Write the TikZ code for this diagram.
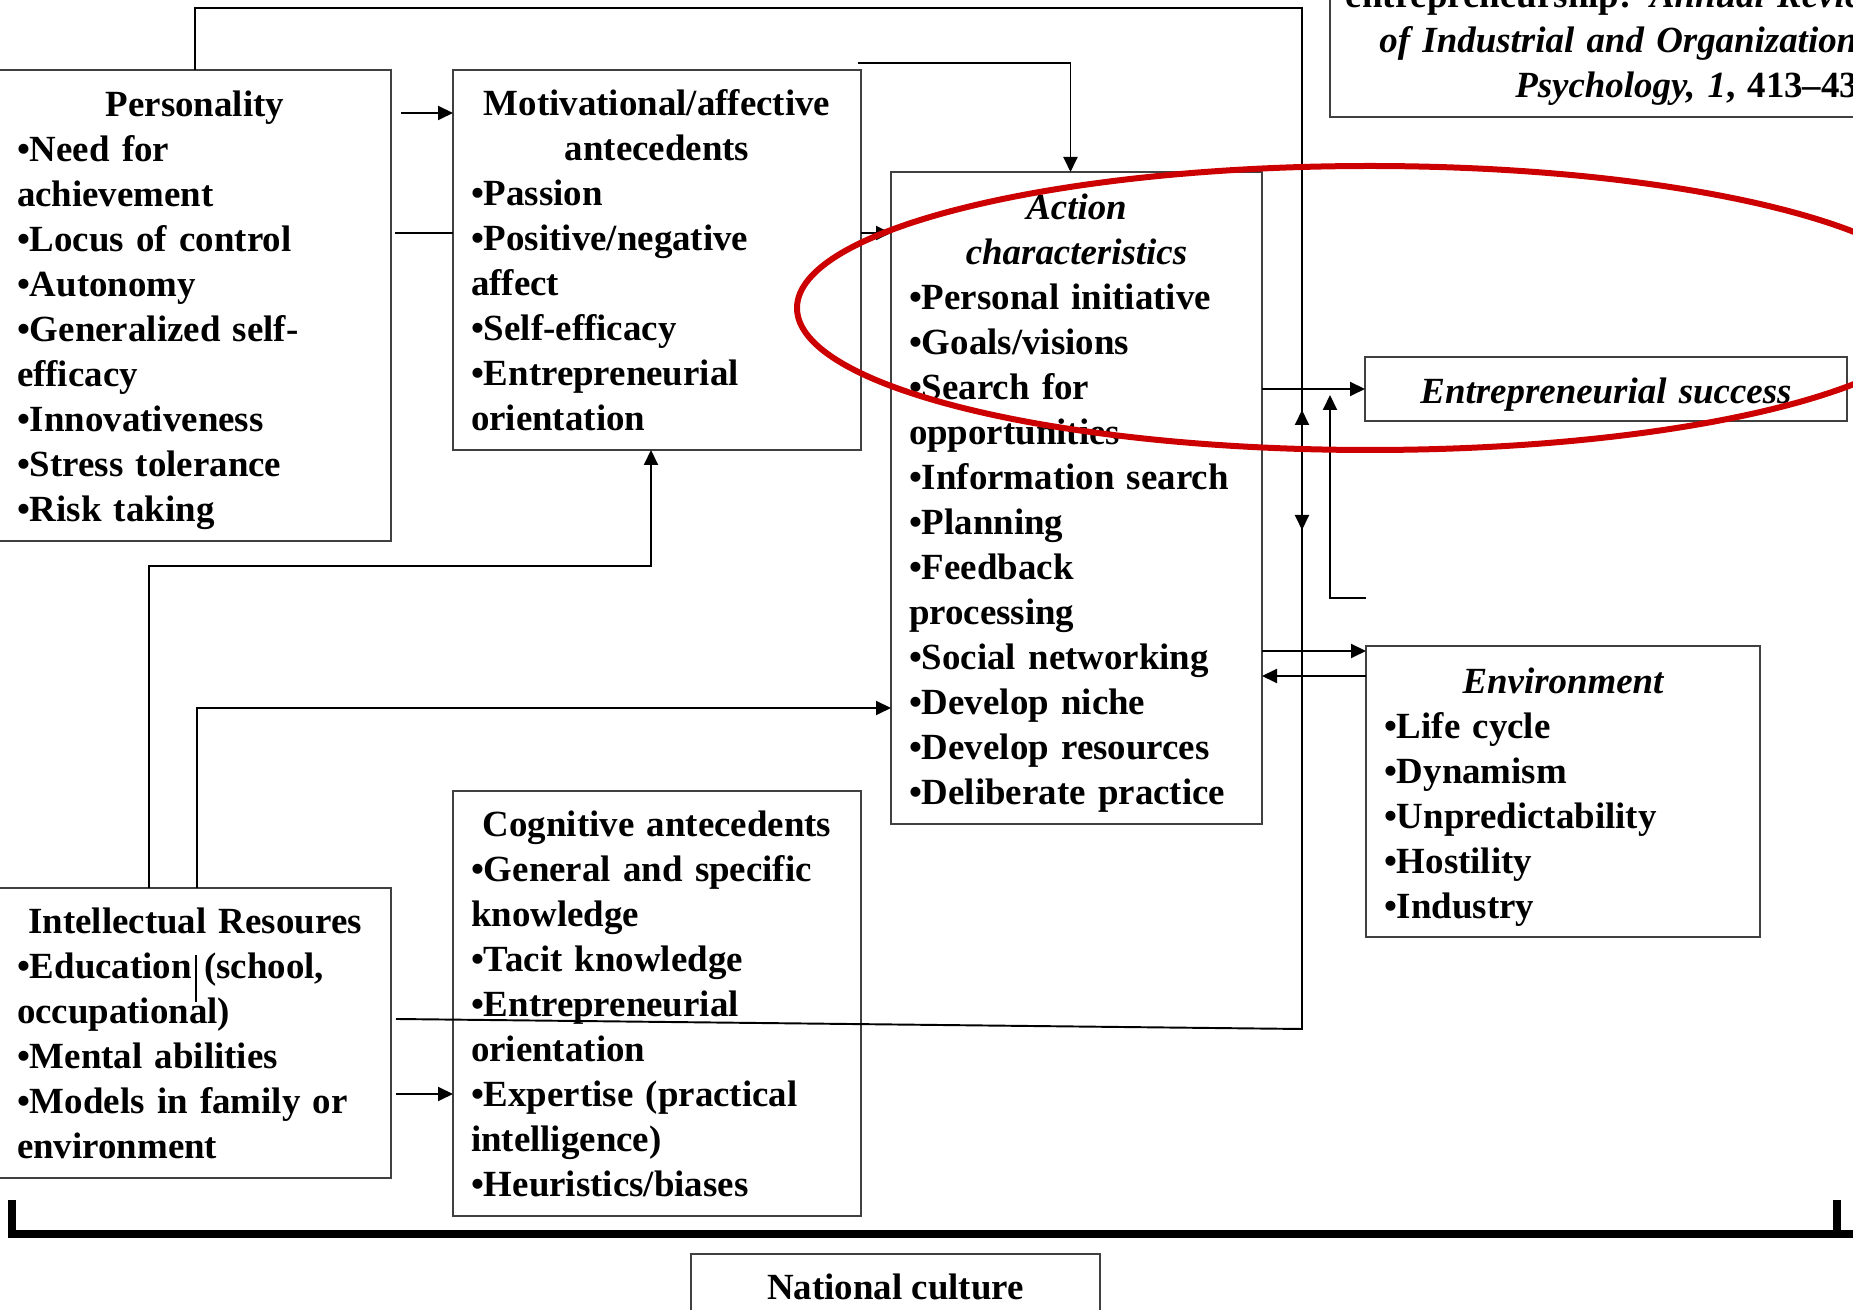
\documentclass[tikz,border=0pt]{standalone}
\usepackage{fontspec}
\setmainfont{Liberation Serif}
\usetikzlibrary{arrows.meta}
\setlength{\parindent}{0pt}
\newcommand{\boxhead}[2][0pt]{\makebox[\hsize]{\rule{0pt}{#1}#2}}
\definecolor{markred}{RGB}{204,0,0}

\begin{document}
\begin{tikzpicture}[
  x=0.1mm, y=-0.1mm,
  box/.style={draw=black!75, line width=0.55pt, fill=white, anchor=north west, align=left,
    inner xsep=1.8mm, inner ysep=0pt, outer sep=0pt, font=\bfseries\fontsize{10.5}{12.8}\selectfont},
  arrow/.style={-{Triangle[length=1.5mm,width=1.4mm]}, line width=0.55pt},
  link/.style={line width=0.55pt}
]
\useasboundingbox (0,0) rectangle (1853,1310);

\node[box, text width=35.6mm, minimum height=47.1mm] (pers) at (-1,70) {\boxhead[10pt]{Personality}\\
  •Need for\\achievement\\•Locus of control\\•Autonomy\\•Generalized self-\\efficacy\\
  •Innovativeness\\•Stress tolerance\\•Risk taking};
\node[box, text width=37.2mm, minimum height=38mm] (motiv) at (453,70) {\boxhead{Motivational/affective}\\
  \boxhead{antecedents}\\•Passion\\•Positive/negative\\affect\\•Self-efficacy\\
  •Entrepreneurial\\orientation};
\node[box, text width=33.5mm, minimum height=65.2mm] (action) at (891,172) {\boxhead[10pt]{\itshape Action}\\
  \boxhead{\itshape characteristics}\\•Personal initiative\\•Goals/visions\\•Search for\\opportunities\\
  •Information search\\•Planning\\•Feedback\\processing\\•Social networking\\•Develop niche\\
  •Develop resources\\•Deliberate practice};
\node[box, align=center, text width=44.6mm, minimum height=6.4mm, text height=8.4pt, text depth=0pt] (success) at (1365,357) {\itshape Entrepreneurial success};
\node[box, text width=35.8mm, minimum height=29.1mm] (env) at (1366,646) {\boxhead[10.6pt]{\itshape Environment}\\
  •Life cycle\\•Dynamism\\•Unpredictability\\•Hostility\\•Industry};
\node[box, text width=35.6mm, minimum height=29mm] (intel) at (-1,888) {\boxhead{Intellectual Resoures}\\
  •Education (school,\\occupational)\\•Mental abilities\\•Models in family or\\environment};
\node[box, text width=37.2mm, minimum height=42.5mm] (cogn) at (453,791) {\boxhead{Cognitive antecedents}\\
  •General and specific\\knowledge\\•Tacit knowledge\\•Entrepreneurial\\orientation\\
  •Expertise (practical\\intelligence)\\•Heuristics/biases};
\node[box, anchor=south west, align=right, inner xsep=1.4mm, text width=54.2mm, minimum height=14.6mm] (refbox) at (1330,117)
  {entrepreneurship: \textit{Annual Review}\\\textit{of Industrial and Organizational}\\\textit{Psychology, 1}, 413--438.};
\node[box, anchor=north, align=center, minimum width=40.9mm, minimum height=6.6mm] (culture) at (895.5,1254) {National culture};

\coordinate (topturn) at (1302,8);
\coordinate (downtip) at (1302,530);
\coordinate (lowturn) at (1302,1029);
\coordinate (uptip) at (1302,410);
\coordinate (intelout) at (396,1019);
\coordinate (fbstart) at (1366,598);
\coordinate (fbtip) at (1330,395);
\coordinate (persout) at (401,113);
\coordinate (perstoact) at (395,233);
\coordinate (motivout) at (858,63);
\coordinate (inteltoact) at (197,708);
\coordinate (inteltocogn) at (396,1094);
\coordinate (envin) at ([yshift=-0.5mm]env.north west);
\coordinate (envout) at ([yshift=-3mm]env.north west);

\draw[arrow] (persout) -- (motiv.west |- persout);
\draw[link] (perstoact) -- (motiv.west |- perstoact);
\draw[arrow] (motiv.east |- perstoact) -- (action.west |- perstoact);
\draw[arrow] (motivout) -| ([xshift=-0.6mm]action.north);
\draw[arrow] (pers.north) |- (topturn) -- (downtip);
\draw[arrow] (intelout) -- (lowturn) -- (uptip);
\draw[arrow] ([xshift=-4.6mm]intel.north) -- ++(0,-322) -| ([xshift=-0.6mm]motiv.south);
\draw[arrow] (intel.north -| inteltoact) -- (inteltoact) -- (action.west |- inteltoact);
\draw[link] ([shift={(1,67)}]intel.north) -- ++(0,47);
\draw[arrow] (inteltocogn) -- (cogn.west |- inteltocogn);
\draw[arrow] (action.east |- success.west) -- (success.west);
\draw[arrow] (action.east |- envin) -- (envin);
\draw[arrow] (envout) -- (action.east |- envout);
\draw[arrow] (fbstart) -| (fbtip);

\draw[line width=0.8mm] (12,1200) -- (12,1234) -- (1870,1234);
\draw[line width=0.8mm] (1837,1200) -- (1837,1234);

\draw[markred, line width=0.6mm] (1370,308) ellipse [x radius=57.3mm, y radius=14.2mm];
\end{tikzpicture}
\end{document}
